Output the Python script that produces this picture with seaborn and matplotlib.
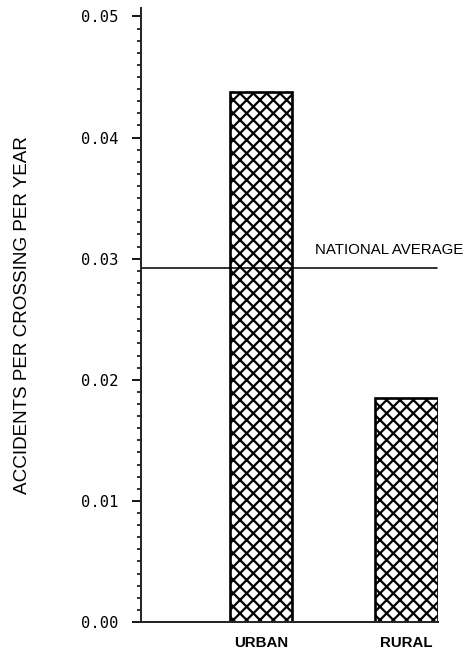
import numpy as np
import matplotlib
matplotlib.use('Agg')
import matplotlib.pyplot as plt
import seaborn as sns
from matplotlib.ticker import MultipleLocator, FuncFormatter

categories = ['URBAN', 'RURAL']
accident_rates = [0.0438, 0.0185]
national_average = 0.0292
y_ticks = [0.00, 0.01, 0.02, 0.03, 0.04, 0.05]

sns.set_style('ticks')
plt.rcParams['font.family'] = ['Liberation Sans', 'DejaVu Sans']
plt.rcParams['hatch.linewidth'] = 2.0
plt.rcParams['hatch.color'] = 'black'
plt.rcParams['text.color'] = 'black'
plt.rcParams['axes.labelcolor'] = 'black'
plt.rcParams['xtick.color'] = 'black'
plt.rcParams['ytick.color'] = 'black'

DPI = 80
fig = plt.figure(figsize=(466 / DPI, 658 / DPI), dpi=DPI)
ax = fig.add_axes([141 / 466, 36 / 658, (438 - 141) / 466, (622 - 8) / 658])

sns.barplot(x=categories, y=accident_rates, color='white', edgecolor='black',
            width=0.43, linewidth=2.4, hatch='xx', ax=ax, saturation=1)

ax.set_xlim(-0.825, 1.216)
ax.set_ylim(0, 0.0507)

# national average reference line
ax.plot([-0.825, 1.21], [national_average, national_average], color='black', lw=1.4)
ax.text(0.37, national_average + 0.0009, 'NATIONAL AVERAGE', fontsize=13.5,
        family=['Liberation Sans Narrow', 'Liberation Sans'], va='bottom', ha='left')

ax.set_yticks(y_ticks)
ax.yaxis.set_minor_locator(MultipleLocator(0.001))
ax.yaxis.set_major_formatter(FuncFormatter(lambda v, p: f'{v:.2f}'))
for lab in ax.get_yticklabels():
    lab.set_family(['DejaVu Sans Mono'])
ax.tick_params(axis='y', which='major', length=8, width=1.6, pad=12, labelsize=14)
ax.tick_params(axis='y', which='minor', length=4, width=1.4)
ax.tick_params(axis='x', length=0, pad=13, labelsize=13.5)
for lab in ax.get_xticklabels():
    lab.set_fontweight('bold')

ax.set_ylabel('ACCIDENTS PER CROSSING PER YEAR', fontsize=17)
ax.yaxis.set_label_coords(-0.37, 0.5)
ax.set_xlabel('')

sns.despine(ax=ax)
ax.spines['left'].set_linewidth(1.8)
ax.spines['bottom'].set_linewidth(1.8)

fig.savefig('out.png', dpi=DPI)
